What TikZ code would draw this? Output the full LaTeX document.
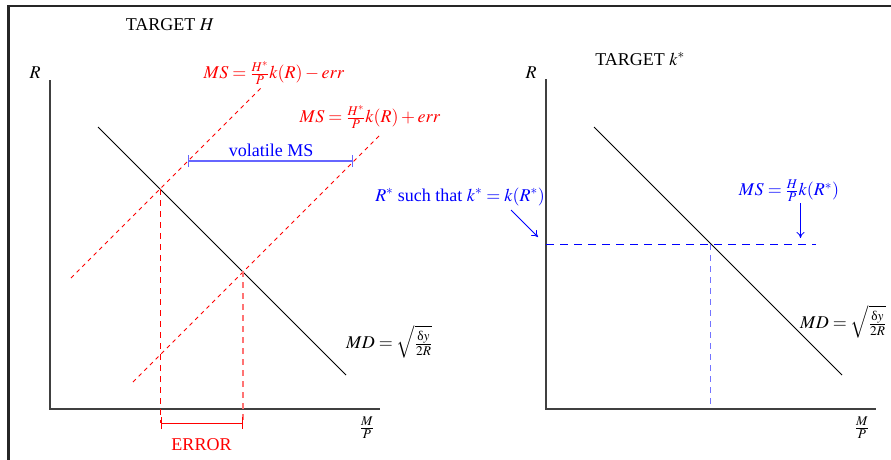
\documentclass[tikz,border=0pt]{standalone}
\usepackage{mathptmx}
\usepackage{amsmath}
\usepackage{fontspec}
\setmainfont{Liberation Serif}
\usetikzlibrary{arrows.meta}
\begin{document}
\begin{tikzpicture}[x=1pt,y=-1pt,
  font=\fontsize{18}{21}\selectfont,
  frame/.style={black!85,line width=2.5pt},
  axis/.style={black!75,line width=1.2pt},
  curve/.style={black,line width=0.8pt},
  msline/.style={red,line width=0.9pt,dash pattern=on 4pt off 4pt},
  dropred/.style={red,line width=1pt,dash pattern=on 6pt off 5pt},
  dropblue/.style={blue!55,line width=1.6pt,dash pattern=on 6pt off 5pt},
  hblue/.style={blue,line width=1pt,dash pattern=on 8pt off 6pt},
  bracket/.style={line width=0.9pt,{Bar[width=12pt]}-{Bar[width=12pt]}},
  lbl/.style={inner sep=0pt},
  pointer/.style={blue,line width=0.8pt,-{To[length=6pt,width=8pt]}}]
\useasboundingbox (0,0) rectangle (891,460);
% frame
\draw[frame] (8.7,462) -- (8.7,6) -- (893,6);

% ---------------- left panel ----------------
\coordinate (LyT) at (50,80);
\coordinate (Lo) at (50,409);
\coordinate (LxE) at (380,409);
\draw[axis] (LyT) -- (Lo) -- (LxE);
\node[lbl] (LR) at (35,73) {$R$};
\node[lbl] (LMP) at (367,428) {$\frac{M}{P}$};
\node[lbl] (LT) at (170,25) {TARGET $H$};

\coordinate (LmdA) at (98,127);
\coordinate (LmdB) at (346,375);
\draw[curve] (LmdA) -- (LmdB);
\node[lbl,anchor=west] (LMD) at (346,342) {$MD=\sqrt{\frac{\text{δ}y}{2R}}$};

\coordinate (m1a) at (71,278);
\coordinate (m1b) at (263,86);
\draw[msline] (m1a) -- (m1b);
\coordinate (m2a) at (133,382);
\coordinate (m2b) at (379,136);
\draw[msline] (m2a) -- (m2b);
\node[lbl,red] (MSm) at (274,73) {$MS=\frac{H^*}{P}k(R)-err$};
\node[lbl,red] (MSp) at (370,117) {$MS=\frac{H^*}{P}k(R)+err$};

\coordinate (I1) at (160.5,189);
\coordinate (I2) at (243,271);
\coordinate (E1) at (160.5,423);
\coordinate (E2) at (243,423);
\draw[dropred] (I1) -- (E1);
\draw[dropred,red!55,line width=1.6pt] (I2) -- (E2);
\draw[bracket,red] (E1) -- (E2);
\node[lbl,red] (ERR) at (201.5,445) {ERROR};

\coordinate (V1) at (188,161);
\coordinate (V2) at (353,161);
\draw[bracket,blue!60,line width=1.4pt] (V1) -- (V2);
\node[lbl,blue] (VMS) at (271,150) {volatile MS};

% ---------------- right panel ----------------
\coordinate (RyT) at (546,79);
\coordinate (Ro) at (546,409);
\coordinate (RxE) at (876,409);
\draw[axis] (RyT) -- (Ro) -- (RxE);
\node[lbl] (RR) at (531,73) {$R$};
\node[lbl] (RMP) at (862,428) {$\frac{M}{P}$};
\node[lbl] (RT) at (640,59) {TARGET $k^*$};

\coordinate (RmdA) at (594,127);
\coordinate (RmdB) at (842,375);
\draw[curve] (RmdA) -- (RmdB);
\node[lbl,anchor=west] (RMD) at (800,322) {$MD=\sqrt{\frac{\text{δ}y}{2R}}$};

\coordinate (Rh0) at (546,244);
\coordinate (Rh1) at (816,244);
\coordinate (RI) at (710.5,244);
\coordinate (RIb) at (710.5,404);
\draw[hblue] (Rh0) -- (Rh1);
\draw[dropblue] (RI) -- (RIb);

\node[lbl,blue] (RMS) at (789,191) {$MS=\frac{H}{P}k(R^*)$};
\coordinate (RMSa) at (800.5,203);
\coordinate (RMSb) at (800.5,238);
\draw[pointer] (RMSa) -- (RMSb);

\node[lbl,blue] (RST) at (460,197) {$R^*$ such that $k^*=k(R^*)$};
\coordinate (RSa) at (511,210);
\coordinate (RSb) at (538,237);
\draw[pointer] (RSa) -- (RSb);
\end{tikzpicture}
\end{document}
